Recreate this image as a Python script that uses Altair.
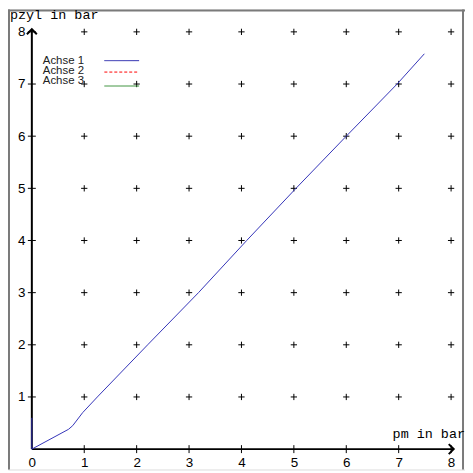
import altair as alt
import pandas as pd

# ---- data ----
curve_x = [0.0, 0.0, 0.70, 0.78, 0.97, 1.25, 2.21, 3.18, 4.10, 5.04, 6.00, 6.97, 7.49]
curve_y = [0.60, 0.0, 0.38, 0.45, 0.70, 1.00, 2.00, 3.00, 4.00, 5.00, 6.00, 7.00, 7.58]

x_ticks = [0, 1, 2, 3, 4, 5, 6, 7, 8]
y_ticks = [1, 2, 3, 4, 5, 6, 7, 8]
grid_vals = [1, 2, 3, 4, 5, 6, 7, 8]

legend_names = ["Achse 1", "Achse 2", "Achse 3"]
legend_colors = ["#1c1ca8", "#ff0000", "#2e8a2e"]

x_title = "pm in bar"
y_title = "pzyl in bar"

# ---- layout ----
W, H = 460, 463
PX_X = 52.75
PX_Y = 52.5
OX, OY = 24, 442.5
x_dom = [-OX / PX_X, (W - OX) / PX_X]
y_dom = [(OY - H) / PX_Y, OY / PX_Y]

xs = alt.Scale(domain=x_dom, nice=False, zero=False)
ys = alt.Scale(domain=y_dom, nice=False, zero=False)

AXX = alt.Axis(values=x_ticks, domain=False, ticks=False, tickSize=0, grid=False,
               labelPadding=6, offset=-(H - OY), labelFont="Liberation Sans",
               labelFontSize=13.5, labelColor="#000", title=None, labelFlush=False,
               labelOverlap=False)
AXY = alt.Axis(values=y_ticks, domain=False, ticks=False, tickSize=0, grid=False,
               labelPadding=7, offset=-OX, labelFont="Liberation Sans",
               labelFontSize=13.5, labelColor="#000", title=None, labelFlush=False,
               labelOverlap=False)

curve = pd.DataFrame({"x": curve_x, "y": curve_y, "o": range(len(curve_x))})
grid = pd.DataFrame([{"x": gx, "y": gy} for gx in grid_vals for gy in grid_vals])
xt = pd.DataFrame({"x": x_ticks[1:], "y": [0] * (len(x_ticks) - 1)})
yt = pd.DataFrame({"x": [0] * len(y_ticks), "y": y_ticks})
AX_END = 8.05
axes_df = pd.DataFrame({"x": [0, 0], "y": [0, 0], "x2": [AX_END, 0], "y2": [0, AX_END]})
arrow_up = pd.DataFrame({"x": [0], "y": [AX_END]})
arrow_right = pd.DataFrame({"x": [AX_END], "y": [0]})

leg_text = pd.DataFrame({
    "name": legend_names,
    "x": [0.2085] * 3,
    "y": [7.438 - 0.19 * i for i in range(3)],
})
leg_line = pd.DataFrame({
    "name": legend_names,
    "color": legend_colors,
    "x": [1.384] * 3,
    "x2": [2.047] * 3,
    "y": [7.448, 7.229, 6.962],
    "dash": ["solid", "dash", "solid"],
})


def X(f="x"):
    return alt.X(f"{f}:Q", scale=xs, axis=AXX)


def Y(f="y"):
    return alt.Y(f"{f}:Q", scale=ys, axis=AXY)


plus_path = "M-1,0L1,0M0,-1L0,1"
grid_layer = alt.Chart(grid).mark_point(shape=plus_path, size=40, stroke="#000",
                                         strokeWidth=1, filled=False, opacity=1).encode(x=X(), y=Y())

xtick_layer = alt.Chart(xt).mark_point(shape="M0,-1L0,1", size=64, stroke="#000",
                                        strokeWidth=1, filled=False, opacity=1).encode(x=X(), y=Y())
ytick_layer = alt.Chart(yt).mark_point(shape="M-1,0L1,0", size=64, stroke="#000",
                                        strokeWidth=1, filled=False, opacity=1).encode(x=X(), y=Y())

axis_lines = alt.Chart(axes_df).mark_rule(color="#000", strokeWidth=2).encode(
    x=X(), y=Y(), x2="x2:Q", y2="y2:Q")
arr_up = alt.Chart(arrow_up).mark_point(shape="M-1,1L0,0L1,1", size=100, stroke="#000",
                                        strokeWidth=2, filled=False, opacity=1).encode(x=X(), y=Y())
arr_right = alt.Chart(arrow_right).mark_point(shape="M-1,-1L0,0L-1,1", size=100, stroke="#000",
                                              strokeWidth=2, filled=False, opacity=1).encode(x=X(), y=Y())

curve_layer = alt.Chart(curve).mark_line(color="#3434b8", strokeWidth=1).encode(
    x=X(), y=Y(), order="o:Q")

leg_t = alt.Chart(leg_text).mark_text(align="left", baseline="middle", font="Liberation Sans",
                                      fontSize=11.5, color="#222").encode(x=X(), y=Y(), text="name:N")
leg_l = alt.Chart(leg_line).mark_rule(strokeWidth=1).encode(
    x=X(), x2="x2:Q", y=Y(),
    color=alt.Color("color:N", scale=None),
    strokeDash=alt.StrokeDash("dash:N", scale=alt.Scale(domain=["solid", "dash"],
                                                       range=[[1, 0], [3, 2]]), legend=None),
)

title_y = alt.Chart(pd.DataFrame({"t": [y_title]})).mark_text(
    align="left", baseline="alphabetic", font="Liberation Mono", fontSize=13.5, color="#000"
).encode(x=alt.value(2), y=alt.value(10), text="t:N")
title_x = alt.Chart(pd.DataFrame({"t": [x_title]})).mark_text(
    align="right", baseline="alphabetic", font="Liberation Mono", fontSize=13.5, color="#000"
).encode(x=alt.value(460), y=alt.value(431), text="t:N")

frame = alt.Chart(pd.DataFrame({"k": [0]})).mark_rule(color="#7a7a7a", strokeWidth=2)
frame_left = frame.encode(x=alt.value(1), y=alt.value(0), y2=alt.value(H))
frame_top = frame.encode(x=alt.value(0), x2=alt.value(W), y=alt.value(1))
frame_right = frame.encode(x=alt.value(W - 2), y=alt.value(0), y2=alt.value(H))

chart = alt.layer(
    grid_layer, frame_left, frame_top, frame_right,
    axis_lines, arr_up, arr_right, xtick_layer, ytick_layer,
    leg_t, leg_l, curve_layer, title_y, title_x,
).properties(
    width=W, height=H,
    autosize=alt.AutoSizeParams(type="none"),
    padding=0,
).configure_view(stroke=None).configure(background="#ffffff")

chart.save("out.html", embed_options={"renderer": "svg", "actions": False})
